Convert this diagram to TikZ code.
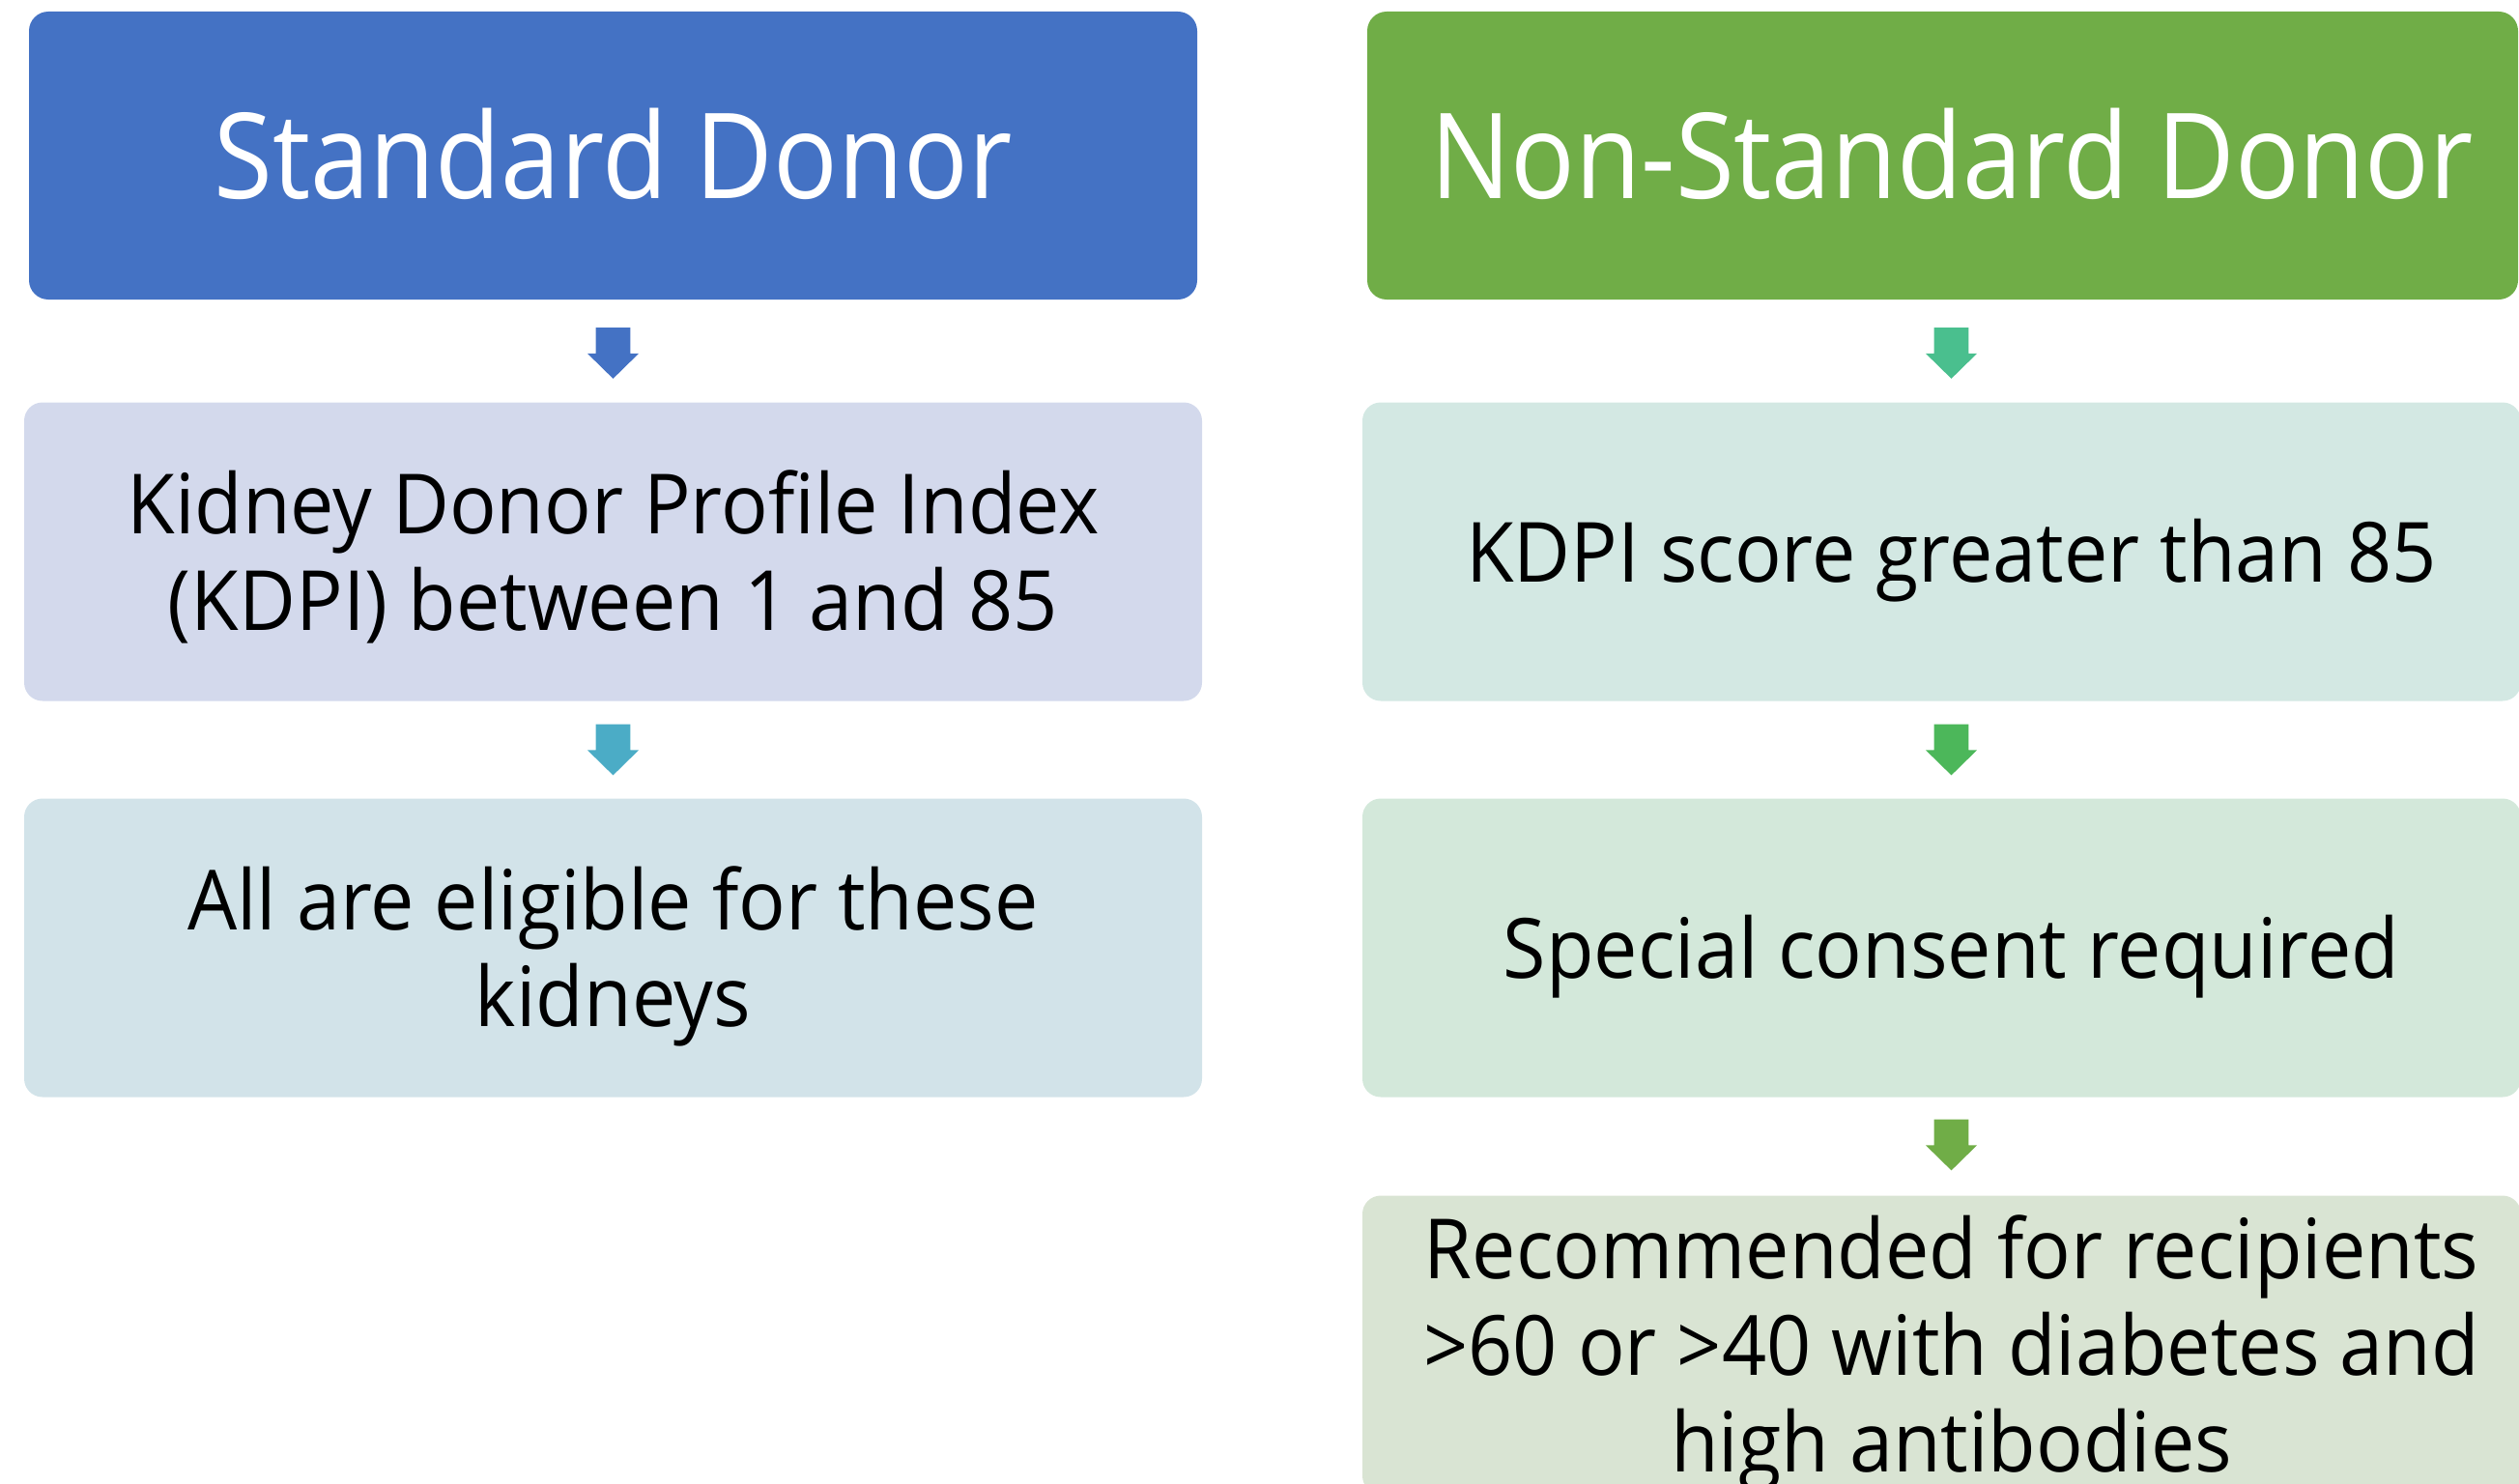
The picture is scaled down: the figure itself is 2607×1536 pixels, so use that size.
\documentclass[tikz,border=0pt]{standalone}
\usepackage{fontspec}
\setmainfont{Open Sans}[FakeStretch=0.9]
\newfontfamily\bodyfont{Open Sans}[FakeStretch=0.94]
\usetikzlibrary{calc}
\definecolor{hblue}{HTML}{4472C4}
\definecolor{hgreen}{HTML}{70AD47}
\definecolor{arTeal}{HTML}{4BACC6}
\definecolor{arMint}{HTML}{4ABF8E}
\definecolor{arGreen}{HTML}{4CB75A}
\definecolor{fLav}{HTML}{D3D9EC}
\definecolor{fIce}{HTML}{D2E3E9}
\definecolor{fMint}{HTML}{D3E8E3}
\definecolor{fSage}{HTML}{D3E8DA}
\definecolor{fMoss}{HTML}{D9E4D3}
\tikzset{
  hdrbox/.style={rounded corners=20pt, inner sep=0pt, minimum height=298pt},
  lbox/.style={rounded corners=19pt, inner sep=0pt, minimum height=309pt},
  htxt/.style={text=white, font=\fontsize{123}{140}\selectfont, inner sep=0pt, anchor=base},
  btxt/.style={text=black, font=\bodyfont\fontsize{86}{100}\selectfont, align=center, inner sep=0pt, anchor=base},
}
\newcommand{\blockarrow}[3]{% #1 top coordinate name, #2 colour
  \fill[#2] ($(#1)+(-17.8,0)$) -- ($(#1)+(17.8,0)$) -- ($(#1)+(17.8,26.7)$) -- ($(#1)+(26.5,26.7)$)
     -- ($(#1)+(0,52.7)$) -- ($(#1)+(-26.5,26.7)$) -- ($(#1)+(-17.8,26.7)$) -- cycle;}
\begin{document}
\begin{tikzpicture}[x=1pt,y=-1pt]
\useasboundingbox (0,0) rectangle (2607,1536);
\clip (0,0) rectangle (2607,1536);
% left column
\node[hdrbox, fill=hblue, minimum width=1209pt] (h1) at (634.5,161) {};
\node[htxt] (t1) at (634.5,205) {Standard Donor};
\node[lbox, fill=fLav, minimum width=1219pt] (b1) at (634.5,571) {};
\node[btxt] (tb1) at (634.5,652) {Kidney Donor Profile Index\\(KDPI) between 1 and 85};
\node[lbox, fill=fIce, minimum width=1219pt] (b2) at (634.5,981) {};
\node[btxt] (tb2) at (634.5,1062) {All are eligible for these\\kidneys};
% right column
\node[hdrbox, fill=hgreen, minimum width=1191pt] (h2) at (2010.5,161) {};
\node[htxt] (t2) at (2020,205) {Non-Standard Donor};
\node[lbox, fill=fMint, minimum width=1199pt] (c1) at (2009.5,571) {};
\node[btxt] (tc1) at (2019.5,602) {KDPI score greater than 85};
\node[lbox, fill=fSage, minimum width=1199pt] (c2) at (2009.5,981) {};
\node[btxt] (tc2) at (2019.5,1012) {Special consent required};
\node[lbox, fill=fMoss, minimum width=1199pt] (c3) at (2009.5,1392) {};
\node[btxt] (tc3) at (2019.5,1523) {Recommended for recipients\\>60 or >40 with diabetes and\\high antibodies};
% arrows
\coordinate (a1) at ($(h1.south -| t1.center)+(0,29)$);
\coordinate (a2) at ($(b1.south -| t1.center)+(0,24)$);
\coordinate (a3) at ($(h2.south -| tc1.center)+(0,29)$);
\coordinate (a4) at ($(c1.south -| tc1.center)+(0,24)$);
\coordinate (a5) at ($(c2.south -| tc1.center)+(0,23)$);
\blockarrow{a1}{hblue}{}
\blockarrow{a2}{arTeal}{}
\blockarrow{a3}{arMint}{}
\blockarrow{a4}{arGreen}{}
\blockarrow{a5}{hgreen}{}
\end{tikzpicture}
\end{document}
